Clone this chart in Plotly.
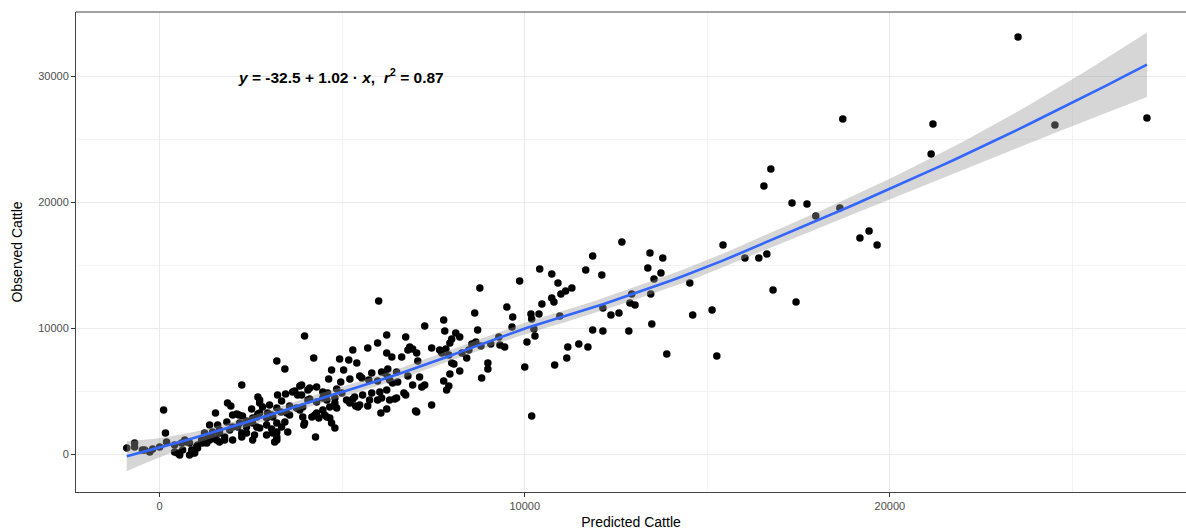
import numpy as np
import plotly.graph_objects as go

# Predicted (x) and observed (y) cattle counts
predicted = [
    -900, -685, -685, -410, -470, -270, -190, 0, 110, 160, 190, 410, 410, 490, 550, 630, 600, 690, 740, 820,
    820, 880, 960, 1010, 1040, 1040, 900,
    1150, 1180, 1230, 1290, 1320, 1370, 1370, 1370, 1450, 1510, 1530, 1560, 1590, 1640, 1640, 1640, 1780, 1780,
    1840, 1860, 1920, 1950, 2000, 2000, 2000, 2110, 2140, 2170, 2190, 2250, 2250, 2250, 2270, 2380, 2380, 2380,
    2520, 2550, 2550, 2550, 2600, 2660, 2660, 2690, 2690, 2740, 2740, 2740, 2740, 2820,
    2930, 2930, 2930, 2960, 3010, 3070, 3070, 3100, 3100, 3150, 3210, 3210, 3210, 3210, 3210, 3210, 3230, 3320,
    3340, 3340, 3430, 3430, 3450, 3480, 3510, 3560, 3560, 3640, 3700, 3750, 3780, 3840, 3840, 3890, 3890, 3920,
    3920, 3950, 3970, 3970, 4060, 4060, 4110, 4110, 4170, 4220, 4250, 4270, 4300, 4300, 4300, 4360,
    4470, 4470, 4470, 4520, 4580, 4580, 4600, 4630, 4660, 4660, 4710, 4710, 4800, 4800, 4800, 4850, 4850, 4930,
    4960, 4990, 5040, 5120, 5180, 5210, 5210, 5290, 5290, 5340, 5370, 5400, 5430, 5480, 5480, 5540, 5560, 5700,
    5700, 5730, 5750, 5810, 5810, 5970, 5970, 5970, 6000,
    6030, 6060, 6080, 6080, 6170, 6220, 6220, 6220, 6220, 6250, 6250, 6300, 6300, 6360, 6380, 6440, 6490, 6490,
    6520, 6630, 6690, 6740, 6740, 6800, 6800, 6850, 6930, 6930, 7010, 7040, 7040, 7070, 7120, 7180, 7260, 7260,
    7450, 7450, 7670, 7730,
    7780, 7780, 7810, 7840, 7860, 7920, 7920, 7950, 7950, 8000, 8000, 8060, 8110, 8220, 8220, 8280, 8410, 8470,
    8550, 8630, 8660, 8710, 8770, 8800, 8820, 8990, 8990, 9070, 9290, 9320, 9450, 9510, 9650, 9670, 9860, 10000,
    10060, 10170, 10190, 10190, 10250, 10280, 10390, 10410, 10470,
    10740, 10740, 10800, 10820, 10910, 10960, 10990, 11120, 11150, 11180, 11290, 11480, 11670, 11730, 11860,
    11860, 12110, 12140, 12140, 12360, 12580, 12660, 12850, 12880, 12930, 13020, 13370, 13430, 13450, 13480,
    13540, 13730, 13780, 13890, 14520, 14600,
    15130, 15260, 15430, 16030, 16410, 16550, 16630, 16740, 16800, 17320, 17430, 17730, 17970, 18630, 18710,
    19180, 19430, 19650, 21130, 21180, 23510, 24520, 27040,
]
observed = [
    480, 870, 560, 320, 320, 160, 400, 560, 3490, 1670, 950, 720, 160, 80, -80, 320, 870, 1110, 950, 870,
    -80, 320, 80, 560, 720, 480, 80,
    1110, 870, 1670, 870, 1270, 2300, 1350, 1110, 1750, 1270, 3260, 1110, 2300, 1910, 1670, 950, 1350, 1110,
    2540, 4050, 1910, 3810, 3100, 2140, 1110, 3180, 2140, 3100, 2460, 5480, 1670, 1350, 3020, 2620, 2140, 1670,
    3570, 2860, 2460, 1110, 1510, 2940, 2140, 4530, 3180, 4290, 4050, 3260, 2060, 3730,
    2860, 2300, 1510, 3260, 3890, 3100, 1990, 2940, 1670, 950, 7380, 3650, 2460, 1750, 1350, 1110, 4690, 3340,
    4210, 2140, 6750, 2540, 4760, 3260, 1750, 3810, 3100, 4920, 5000, 3650, 4690, 5400, 3490, 5480, 4690, 3730,
    2940, 2300, 9370, 2460, 5080, 4290, 5240, 4370, 2940, 7620, 3100, 1350, 5320, 4130, 3260, 2860,
    4920, 4450, 3490, 3100, 4290, 2940, 4840, 5960, 3730, 2860, 6670, 2460, 4450, 4050, 2060, 5160, 3650, 7540,
    5720, 4840, 6670, 4290, 7460, 5960, 4050, 8260, 4370, 4530, 3810, 7230, 3730, 6190, 3890, 6030, 4690, 8420,
    3810, 5880, 4290, 6430, 4840, 8810, 5800, 4290, 12150,
    4920, 3260, 6510, 4450, 6430, 9450, 8020, 5080, 3570, 6750, 6110, 5880, 4290, 7700, 5640, 4370, 6510, 4450,
    5720, 7700, 4840, 9290, 4690, 8260, 6190, 8500, 8340, 5480, 3410, 8020, 3340, 7380, 6110, 5320, 10160, 5480,
    8420, 3890, 8260, 8020,
    10640, 5800, 9770, 8340, 5080, 7860, 5400, 8810, 6350, 9130, 7230, 7150, 9610, 9290, 6590, 8020, 7620, 8260,
    8730, 11200, 8890, 9850, 13180, 8580, 6030, 7230, 6750, 8730, 9290, 8650, 8500, 11670, 10080, 10880, 13740, 6910,
    8890, 11120, 10720, 3020, 9930, 9370, 11120, 14690, 11910,
    14290, 12390, 12070, 7070, 13580, 10960, 12700, 12940, 7620, 8500, 13180, 8730, 14610, 8500, 15720,
    9850, 14210, 11590, 9770, 11040, 11200, 16830, 9770, 11990, 12700, 11830, 14770, 15960, 12700, 10320,
    13900, 14370, 15560, 7940, 13580, 11040,
    11430, 7780, 16590, 15560, 15560, 21280, 15880, 22630, 13020, 19930, 12070, 19850, 18900, 19530, 26600,
    17150, 17710, 16590, 23820, 26200, 33110, 26120, 26680,
]

eq_text = "<b><i>y</i> = -32.5 + 1.02 · <i>x</i>,  <i>r</i><sup>2</sup> = 0.87</b>"
x_title = "Predicted Cattle"
y_title = "Observed Cattle"
x_ticks = [0, 10000, 20000]
y_ticks = [0, 10000, 20000, 30000]

# LOESS smoother (span 0.75, local quadratic, tricube weights) with 95% band
xa = np.array(predicted, float)
ya = np.array(observed, float)
n = len(xa)
span = 0.75
q = int(np.floor(n * span))


def loess_rows(x0s):
    rows = []
    for x0 in x0s:
        d = np.abs(xa - x0)
        h = np.sort(d)[q - 1]
        u = np.clip(d / h, 0, 1)
        w = (1 - u ** 3) ** 3
        X = np.column_stack([np.ones(n), xa - x0, (xa - x0) ** 2])
        XtW = X.T * w
        A = np.linalg.solve(XtW @ X, XtW)
        rows.append(A[0])
    return np.array(rows)


L_data = loess_rows(xa)
resid = ya - L_data @ ya
IL = np.eye(n) - L_data
delta1 = np.trace(IL.T @ IL)
s = np.sqrt(resid @ resid / delta1)
xg = np.linspace(xa.min(), xa.max(), 80)
L_grid = loess_rows(xg)
yg = L_grid @ ya
se = s * np.sqrt((L_grid ** 2).sum(axis=1))
tval = 1.967
lo = yg - tval * se
hi = yg + tval * se

fig = go.Figure()
fig.add_trace(go.Scatter(x=predicted, y=observed, mode="markers",
                         marker=dict(color="black", size=7.5, line=dict(width=0)),
                         showlegend=False, hoverinfo="x+y"))
fig.add_trace(go.Scatter(x=np.concatenate([xg, xg[::-1]]), y=np.concatenate([hi, lo[::-1]]),
                         fill="toself", fillcolor="rgba(153,153,153,0.4)", line=dict(width=0),
                         mode="lines", showlegend=False, hoverinfo="skip"))
fig.add_trace(go.Scatter(x=xg, y=yg, mode="lines", line=dict(color="#3366FF", width=2.6),
                         showlegend=False))

fig.add_annotation(x=2100, y=30000, xref="x", yref="y", text=eq_text, showarrow=False,
                   xanchor="left", yanchor="middle",
                   font=dict(family="Liberation Sans, Arial, sans-serif", size=15.5, color="black"))

axis_common = dict(
    showgrid=True, gridcolor="#ebebeb", gridwidth=1.1, zeroline=False,
    showline=True, linecolor="#444444", linewidth=1,
    ticks="outside", ticklen=4, tickcolor="#333333", tickwidth=1,
    tickfont=dict(family="Liberation Sans, Arial, sans-serif", size=11, color="#4d4d4d"),
    minor=dict(showgrid=True, gridcolor="#f3f3f3", gridwidth=0.6, ticks=""),
    automargin=False,
)
fig.update_layout(
    width=1186, height=530,
    margin=dict(l=76, r=0, t=12, b=38),
    paper_bgcolor="white", plot_bgcolor="white",
    font=dict(family="Liberation Sans, Arial, sans-serif"),
    xaxis=dict(range=[-2290, 28110], tickvals=x_ticks, ticktext=[str(v) for v in x_ticks],
               mirror=False,
               title=dict(text=x_title, standoff=6, font=dict(size=14, color="black")),
               **axis_common),
    yaxis=dict(range=[-3017, 35095], tickvals=y_ticks, ticktext=[str(v) for v in y_ticks],
               mirror=False,
               title=dict(text=y_title, standoff=12, font=dict(size=14, color="black")),
               **axis_common),
)
fig.update_xaxes(minor_tickvals=[5000, 15000, 25000])
fig.update_yaxes(minor_tickvals=[5000, 15000, 25000])
# top border of the panel (the right border lies beyond the visible picture)
fig.add_shape(type="line", xref="paper", yref="paper", x0=0, x1=1, y0=1, y1=1,
              line=dict(color="#444444", width=1))

fig.write_html("out.html", config={"displayModeBar": False},
               post_script="document.body.style.margin='0';document.body.style.padding='0';")
